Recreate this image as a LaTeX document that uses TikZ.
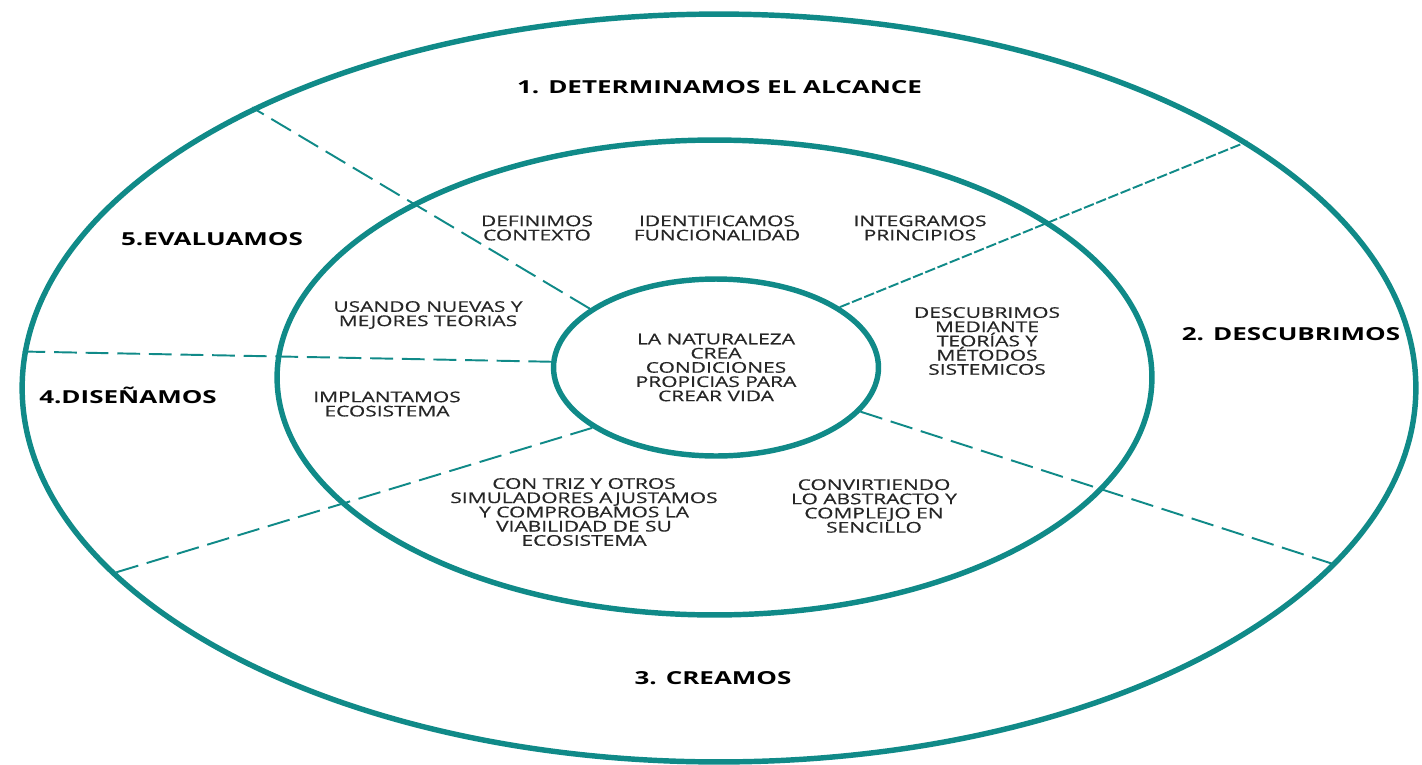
\documentclass[tikz,border=0pt]{standalone}
\usepackage{fontspec}
\setmainfont{Open Sans}[FakeStretch=1.45]
\newfontfamily\notefamily{Open Sans}[FakeStretch=1.42, FakeBold=0.6]
\usetikzlibrary{shapes.geometric}
\definecolor{ringteal}{RGB}{16,138,136}
\definecolor{notegray}{HTML}{262626}
\newcommand{\phasefont}{\fontsize{10.2pt}{11pt}\selectfont\bfseries}
\newcommand{\notefont}{\notefamily\fontsize{8.4pt}{8.1pt}\selectfont}
\tikzstyle{ring} = [ellipse, draw=ringteal, line width=3.1pt, inner sep=0pt]
\tikzstyle{cut} = [draw=ringteal, line width=1.1pt, dash pattern=on 13pt off 5pt]
\tikzstyle{phase} = [font=\phasefont, text=black, text height=7pt, text depth=0pt, inner sep=0pt]
\tikzstyle{note} = [font=\notefont, align=center, text=notegray, inner sep=0pt]

\begin{document}
\begin{tikzpicture}[x=0.02cm, y=-0.02cm]
\useasboundingbox (0,0) rectangle (1422,764);
\node (outer) [ring, minimum width=27.88cm, minimum height=14.96cm] at (719,388) {};
\node (middle) [ring, minimum width=17.5cm, minimum height=9.5cm] at (714.5,377.5) {};
\node (core) [ring, note, minimum width=6.5cm, minimum height=3.54cm] at (716,367.5) {LA NATURALEZA\\CREA\\CONDICIONES\\PROPICIAS PARA\\CREAR VIDA};

\node (scope) [phase] at (719.5,87) {1. DETERMINAMOS EL ALCANCE};
\node (discover) [phase] at (1291,334) {2. DESCUBRIMOS};
\node (create) [phase] at (713,678) {3. CREAMOS};
\node (design) [phase] at (128,397) {4.DISEÑAMOS};
\node (evaluate) [phase] at (212,239) {5.EVALUAMOS};

\node (context) [note] at (537,228) {DEFINIMOS\\CONTEXTO};
\node (function) [note] at (717,228) {IDENTIFICAMOS\\FUNCIONALIDAD};
\node (principles) [note] at (920,228) {INTEGRAMOS\\PRINCIPIOS};
\node (theories) [note] at (428,315) {USANDO NUEVAS Y\\MEJORES TEORIAS};
\node (implant) [note] at (387,404) {IMPLANTAMOS\\ECOSISTEMA};
\node (methods) [note] at (987,341) {DESCUBRIMOS\\MEDIANTE\\TEORÍAS Y\\MÉTODOS\\SISTEMICOS};
\node (triz) [note] at (584,512) {CON TRIZ Y OTROS\\SIMULADORES AJUSTAMOS\\Y COMPROBAMOS LA\\VIABILIDAD DE SU\\ECOSISTEMA};
\node (simple) [note] at (874,506) {CONVIRTIENDO\\LO ABSTRACTO Y\\COMPLEJO EN\\SENCILLO};

\draw [cut] (core.155) -- (outer.149);
\draw [cut, dash pattern=on 6pt off 1.5pt] (core.26) -- (outer.25);
\draw [cut] (core.178) -- (outer.177);
\draw [cut] (core.206) -- (outer.197);
\draw [cut] (core.343) -- (outer.344);
\end{tikzpicture}
\end{document}
